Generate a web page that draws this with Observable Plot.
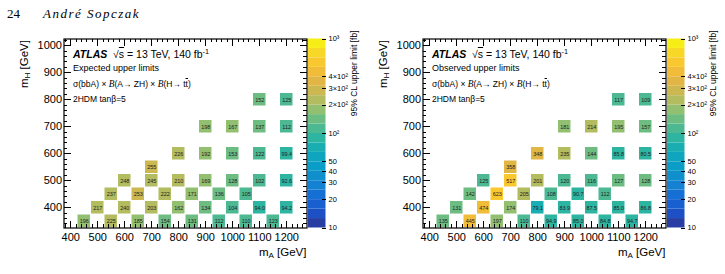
<!DOCTYPE html>
<html>
<head>
<meta charset="utf-8">
<script src="https://cdn.jsdelivr.net/npm/d3@7"></script>
<script src="https://cdn.jsdelivr.net/npm/@observablehq/plot@0.6"></script>
<style>
  body { margin: 0; background: #fff; }
  #page { position: relative; width: 725px; height: 274px; overflow: hidden;
          font-family: "Liberation Sans", Arial, sans-serif; color: #000; }
  #page svg { position: absolute; top: 0; overflow: visible; }
  .t { position: absolute; white-space: nowrap; line-height: 1; }
  .rot { position: absolute; white-space: nowrap; line-height: 1; width: 150px; text-align: right;
         transform-origin: 100% 0; transform: rotate(-90deg); }
  sub { font-size: 70%; vertical-align: -0.3em; line-height: 0; }
  sup { font-size: 70%; vertical-align: 0.5em; line-height: 0; }
</style>
</head>
<body>
<div id="page"></div>
<script>
// Signal grid: (mA, mH) points in GeV
const massA = [450, 550, 650, 750, 850, 950, 1050, 1150,
               500, 600, 700, 800, 900, 1000, 1100, 1200,
               550, 650, 750, 850, 950, 1050,
               600, 700, 800, 900, 1000, 1100, 1200,
               700,
               800, 900, 1000, 1100, 1200,
               900, 1000, 1100, 1200,
               1100, 1200];
const massH = [350, 350, 350, 350, 350, 350, 350, 350,
               400, 400, 400, 400, 400, 400, 400, 400,
               450, 450, 450, 450, 450, 450,
               500, 500, 500, 500, 500, 500, 500,
               550,
               600, 600, 600, 600, 600,
               700, 700, 700, 700,
               800, 800];

// 95% CL upper limits [fb]
const expectedLimit = [196, 225, 185, 154, 131, 112, 110, 123,
                       217, 240, 203, 162, 134, 104, 94.0, 94.2,
                       237, 253, 222, 171, 136, 105,
                       248, 245, 210, 169, 128, 102, 92.6,
                       255,
                       226, 192, 153, 122, 99.4,
                       198, 167, 137, 112,
                       152, 125];
const observedLimit = [135, 445, 197, 110, 94.9, 85.0, 84.8, 94.7,
                       131, 474, 174, 79.1, 83.9, 87.5, 85.0, 86.8,
                       142, 623, 205, 108, 90.7, 112,
                       125, 517, 201, 120, 116, 127, 128,
                       358,
                       348, 235, 144, 85.8, 80.5,
                       181, 214, 195, 157,
                       117, 109];

// Axis ticks
const xMajorTicks = [400, 500, 600, 700, 800, 900, 1000, 1100, 1200];
const yMajorTicks = [400, 500, 600, 700, 800, 900, 1000];
const zTicks = [10, 20, 30, 40, 50, 100, 200, 300, 400, 1000];
const zTickLabels = ["10", "20", "30", "40", "50", "10²", "2×10²", "3×10²", "4×10²", "10³"];

// Colour palette anchors (blue → teal → green → orange → yellow) and 20 log-spaced contour levels
const paletteValues = [10, 14, 20, 30, 45, 65, 85, 105, 135, 170, 210, 260, 330, 420, 550, 750, 1000];
const paletteColors = ["#2d3592", "#1d4fc4", "#1668d6", "#1485d2", "#0a9dc7", "#13abb8", "#27b4a5",
                       "#42b898", "#66bd86", "#8cbf74", "#abbd62", "#c6b855", "#dbb448", "#eeb93a",
                       "#f9c62f", "#f7dc24", "#f8fa0e"];
const nLevels = 20;
const levelEdges = d3.range(nLevels + 1).map(i => 10 ** (1 + 2 * i / nLevels));
const palette = d3.scaleLog().domain(paletteValues).range(paletteColors).interpolate(d3.interpolateRgb);
const levelColors = d3.range(nLevels).map(i => palette(Math.sqrt(levelEdges[i] * levelEdges[i + 1])));
const colorScale = {type: "threshold", domain: levelEdges.slice(1, -1), range: levelColors};

const fmt = d3.format(".3r");
const page = document.getElementById("page");

const W = 360, H = 274;
const frame = {left: 63.5, right: 306.5, top: 38.5, bottom: 227.5};
const frameW = frame.right - frame.left, frameH = frame.bottom - frame.top;
const minorTicks = (lo, hi) => d3.range(lo, hi + 1, 20);
const tickStyle = {stroke: "#000", strokeWidth: 1, shapeRendering: "crispEdges"};

// short inward tick marks along the frame edges
function xTicks(values, len) {
  return [Plot.tickX(values, {x: d => d, insetTop: frameH - len, ...tickStyle}),
          Plot.tickX(values, {x: d => d, insetBottom: frameH - len, ...tickStyle})];
}
function yTicks(values, len) {
  return [Plot.tickY(values, {y: d => d, insetRight: frameW - len, ...tickStyle}),
          Plot.tickY(values, {y: d => d, insetLeft: frameW - len, ...tickStyle})];
}

function panel(values, offset) {
  const cells = massA.map((a, i) => ({mA: a, mH: massH[i], v: values[i]}));
  const chart = Plot.plot({
    width: W, height: H,
    marginLeft: frame.left, marginRight: W - frame.right,
    marginTop: frame.top, marginBottom: H - frame.bottom,
    x: {domain: [375, 1275]},
    y: {domain: [325, 1025]},
    color: colorScale,
    style: {fontFamily: "'Liberation Sans', Arial, sans-serif", fontSize: "11px", color: "#000", background: "transparent"},
    marks: [
      Plot.rect(cells, {x1: d => d.mA - 25, x2: d => d.mA + 25, y1: d => d.mH - 25, y2: d => d.mH + 25,
                        fill: "v", inset: 0.5}),
      Plot.text(cells, {x: "mA", y: "mH", text: d => fmt(d.v), fontSize: 5.5, fill: "#222"}),
      Plot.axisX({anchor: "bottom", ticks: xMajorTicks, tickSize: 0, tickPadding: 5, label: null,
                  fontSize: 11, tickFormat: d => String(d)}),
      Plot.axisY({anchor: "left", ticks: yMajorTicks, tickSize: 0, tickPadding: 2, label: null,
                  fontSize: 11, tickFormat: d => String(d)}),
      ...xTicks(xMajorTicks, 7), ...xTicks(minorTicks(380, 1260), 3.5),
      ...yTicks(yMajorTicks, 7), ...yTicks(minorTicks(340, 1020), 3.5),
      Plot.frame({stroke: "#000", strokeWidth: 1.2})
    ]
  });
  chart.style.left = offset + "px";
  page.appendChild(chart);

  // palette bar
  const levels = d3.range(nLevels).map(i => ({lo: levelEdges[i], hi: levelEdges[i + 1]}));
  const barW = 17.5;
  const bar = Plot.plot({
    width: 62, height: H,
    marginLeft: 0, marginRight: 62 - barW,
    marginTop: frame.top, marginBottom: H - frame.bottom,
    x: {domain: [0, 1], axis: null},
    y: {type: "log", domain: [10, 1000]},
    color: colorScale,
    style: {fontFamily: "'Liberation Sans', Arial, sans-serif", fontSize: "8px", color: "#000", background: "transparent"},
    marks: [
      Plot.rect(levels, {x1: 0, x2: 1, y1: "lo", y2: "hi", fill: d => Math.sqrt(d.lo * d.hi)}),
      Plot.axisY({anchor: "right", ticks: zTicks, tickSize: 0, tickPadding: 2.5,
                  tickFormat: d => zTickLabels[zTicks.indexOf(d)], label: null, fontSize: 7.5}),
      Plot.tickY(zTicks, {y: d => d, insetLeft: barW - 4, ...tickStyle}),
      Plot.text(["95% CL upper limit [fb]"], {frameAnchor: "top-right", dx: 24.5, dy: -8.5, rotate: -90,
                 textAnchor: "end", fontSize: 8.5})
    ]
  });
  bar.style.left = (offset + frame.right + 1.5) + "px";
  page.appendChild(bar);
}

panel(expectedLimit, 0);
panel(observedLimit, 359);

// running header
page.insertAdjacentHTML("beforeend", `
  <div class="t" style="left:7px;top:6px;font:13px 'Liberation Serif',serif;">24</div>
  <div class="t" style="left:43px;top:6px;font:italic 13px 'Liberation Serif',serif;letter-spacing:1.5px;">André Sopczak</div>`);

// panel annotations
[{x: 0, title: "Expected upper limits"}, {x: 359, title: "Observed upper limits"}].forEach(({x, title}) => {
  const L = x + 73;
  page.insertAdjacentHTML("beforeend", `
    <div class="t" style="left:${L}px;top:48.5px;font-size:10.5px;"><b><i>ATLAS</i></b>&nbsp; √<span style="text-decoration:overline">s</span> = 13 TeV, 140 fb<sup>-1</sup></div>
    <div class="t" style="left:${L}px;top:64px;font-size:9px;">${title}</div>
    <div class="t" style="left:${L}px;top:80px;font-size:8.5px;">σ(bbA) × <i style="font-family:'Liberation Serif',serif;font-size:110%">B</i>(A→ ZH) × <i style="font-family:'Liberation Serif',serif;font-size:110%">B</i>(H→ t<span style="text-decoration:overline">t</span>)</div>
    <div class="t" style="left:${L}px;top:95px;font-size:8.5px;">2HDM tanβ=5</div>
    <div class="rot" style="left:${x + 25 - 150 - 6}px;top:40px;font-size:11.5px;">m<sub>H</sub> [GeV]</div>
    <div class="t" style="left:${x + 200}px;width:${frame.right - 200}px;text-align:right;top:246.5px;font-size:11.5px;">m<sub>A</sub> [GeV]</div>`);
});
</script>
</body>
</html>
